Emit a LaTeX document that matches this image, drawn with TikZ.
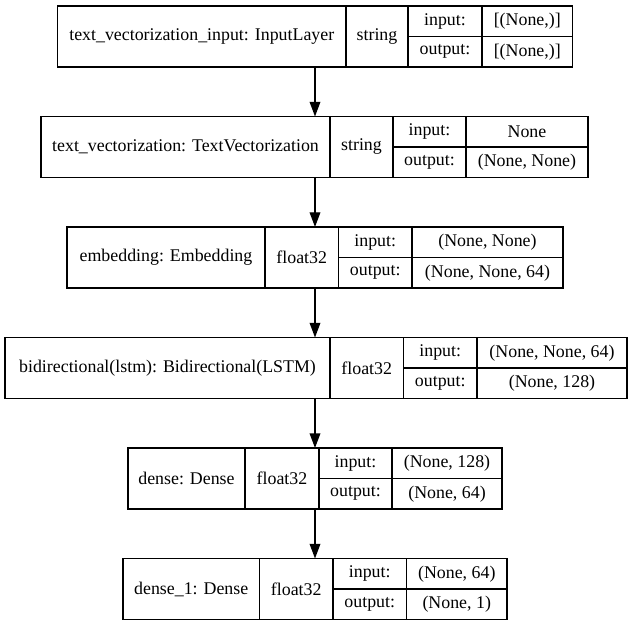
\documentclass[tikz,border=0pt]{standalone}
\usepackage{fontspec}
\setmainfont{Liberation Serif}
\usetikzlibrary{arrows.meta,positioning}

\begin{document}
\begin{tikzpicture}[x=0.75pt,y=-0.75pt,font=\fontsize{13.4}{16}\selectfont]
  \tikzstyle{cell}=[draw,line width=0.9pt,inner sep=0pt,outer sep=0pt,anchor=north west]
  \tikzstyle{flow}=[-{Triangle[length=11pt,width=8pt]},line width=1pt]
  \useasboundingbox (0,0) rectangle (631,627);

  % one row per layer: name | dtype | input/output shapes
  \foreach \lid/\ytop/\xa/\xb/\xc/\xd/\xe/\nm/\ty/\inp/\outp in {
    1/6/57.5/346/408/482/572.5/{text\_vectorization\_input: InputLayer}/string/{[(None,)]}/{[(None,)]},
    2/116.5/41/330/393/466/588/{text\_vectorization: TextVectorization}/string/None/{(None, None)},
    3/227/67/265/338.5/412/563/{embedding: Embedding}/float32/{(None, None)}/{(None, None, 64)},
    4/337.5/5/330/403.5/477/627/{bidirectional(lstm): Bidirectional(LSTM)}/float32/{(None, None, 64)}/{(None, 128)},
    5/448/128/245/319/392/502/{dense: Dense}/float32/{(None, 128)}/{(None, 64)},
    6/558.5/123/259.5/333/406.5/507/{dense\_1: Dense}/float32/{(None, 64)}/{(None, 1)}}
  {
    \node[cell,minimum width={(\xb-\xa)*0.75pt},minimum height=45.75pt] (name\lid) at (\xa,\ytop) {\nm};
    \node[cell,minimum width={(\xc-\xb)*0.75pt},minimum height=45.75pt] (type\lid) at (\xb,\ytop) {\ty};
    \node[cell,minimum width={(\xd-\xc)*0.75pt},minimum height=22.875pt] (inl\lid) at (\xc,\ytop) {input:};
    \node[cell,minimum width={(\xe-\xd)*0.75pt},minimum height=22.875pt] (inv\lid) at (\xd,\ytop) {\inp};
    \node[cell,minimum width={(\xd-\xc)*0.75pt},minimum height=22.875pt] (outl\lid) at (\xc,\ytop+30.5) {output:};
    \node[cell,minimum width={(\xe-\xd)*0.75pt},minimum height=22.875pt] (outv\lid) at (\xd,\ytop+30.5) {\outp};
    \coordinate (top\lid) at (315,\ytop);
    \coordinate (bot\lid) at (315,\ytop+61);
  }

  \foreach \a/\b in {1/2,2/3,3/4,4/5,5/6}
    \draw[flow] (bot\a) -- (top\b);
\end{tikzpicture}
\end{document}
